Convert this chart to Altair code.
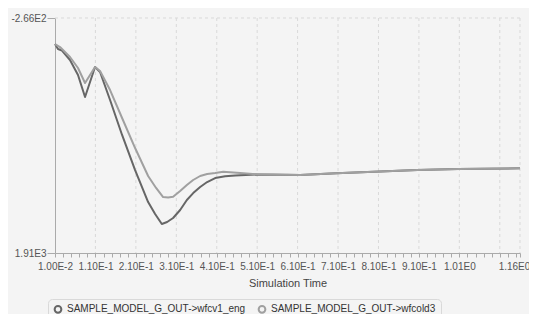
import altair as alt
import pandas as pd

# Series names
series_names = ["SAMPLE_MODEL_G_OUT->wfcv1_eng", "SAMPLE_MODEL_G_OUT->wfcold3"]

# wfcv1_eng (darker line)
t_a = [0.010, 0.0174, 0.0273, 0.0471, 0.0669, 0.0843, 0.109, 0.1214, 0.1462, 0.1759,
       0.2081, 0.2403, 0.2576, 0.2742, 0.2873, 0.3021, 0.3195, 0.3361, 0.3518, 0.369,
       0.3863, 0.4061, 0.4309, 0.4557, 0.5101, 0.6166, 0.7058, 0.9063, 1.0078, 1.16]
v_a = [-25, 21, 35, 123, 262, 466, 188, 234, 493, 817,
       1142, 1438, 1549, 1642, 1623, 1586, 1512, 1419, 1355, 1299,
       1253, 1216, 1200, 1192, 1183, 1188, 1172, 1142, 1132, 1126]

# wfcold3 (lighter line)
t_b = [0.010, 0.0224, 0.0471, 0.0669, 0.0843, 0.109, 0.1214, 0.1462, 0.1759, 0.2081,
       0.2403, 0.26, 0.2774, 0.2898, 0.3021, 0.3195, 0.3361, 0.3517, 0.369, 0.3863,
       0.4061, 0.426, 0.468, 0.5101, 0.6166, 0.7058, 0.9063, 1.0078, 1.16]
v_b = [-25, 3, 95, 197, 336, 188, 225, 401, 660, 938,
       1197, 1308, 1392, 1396, 1389, 1336, 1280, 1234, 1197, 1179,
       1169, 1157, 1169, 1181, 1188, 1172, 1142, 1132, 1126]

# Axis ticks / labels
x_tick_values = [round(0.01 + 0.02 * k, 2) for k in range(58)] + [1.16]
x_label_values = [0.01, 0.11, 0.21, 0.31, 0.41, 0.51, 0.61, 0.71, 0.81, 0.91, 1.01, 1.16]
x_label_texts = ["1.00E-2", "1.10E-1", "2.10E-1", "3.10E-1", "4.10E-1", "5.10E-1",
                 "6.10E-1", "7.10E-1", "8.10E-1", "9.10E-1", "1.01E0", "1.16E0"]
x_grid_values = [0.11, 0.21, 0.31, 0.41, 0.51, 0.61, 0.71, 0.81, 0.91, 1.01, 1.11, 1.16]
y_domain = [-266, 1910]
y_label_texts = ["-2.66E2", "1.91E3"]

df = pd.DataFrame(
    [{"t": t, "v": v, "series": series_names[0]} for t, v in zip(t_a, v_a)]
    + [{"t": t, "v": v, "series": series_names[1]} for t, v in zip(t_b, v_b)]
)
grid_df = pd.DataFrame({"t": x_grid_values})
top_df = pd.DataFrame({"v": [y_domain[0]]})

x_label_expr = ""
for val, txt in zip(x_label_values, x_label_texts):
    x_label_expr += f"abs(datum.value - {val}) < 0.001 ? '{txt}' : "
x_label_expr += "''"
y_label_expr = f"datum.value < 0 ? '{y_label_texts[0]}' : '{y_label_texts[1]}'"

x_scale = alt.Scale(domain=[0.01, 1.16], nice=False, zero=False)
y_scale = alt.Scale(domain=y_domain, reverse=True, nice=False, zero=False)
x_axis = alt.Axis(values=x_tick_values, labelExpr=x_label_expr, grid=False,
                  tickSize=4, title="Simulation Time", labelPadding=4,
                  labelOverlap=False, labelFlush=False, titlePadding=6,
                  labelOffset={"condition": {"test": "datum.value > 1.155", "value": -6}, "value": 0})
y_axis = alt.Axis(values=y_domain, labelExpr=y_label_expr, grid=False,
                  tickSize=8, title=None, labelPadding=1, labelFlush=False)

grid_v = alt.Chart(grid_df).mark_rule(strokeDash=[3, 3], color="#d9d9d9", strokeWidth=1).encode(
    x=alt.X("t:Q", scale=x_scale, axis=x_axis)
)
grid_h = alt.Chart(top_df).mark_rule(strokeDash=[3, 3], color="#d9d9d9", strokeWidth=1).encode(
    y=alt.Y("v:Q", scale=y_scale, axis=y_axis)
)

lines = alt.Chart(df).mark_line(strokeWidth=2, interpolate="linear", strokeJoin="round").encode(
    x=alt.X("t:Q", scale=x_scale, axis=x_axis),
    y=alt.Y("v:Q", scale=y_scale, axis=y_axis),
    color=alt.Color("series:N",
                    scale=alt.Scale(domain=series_names, range=["#666666", "#a0a0a0"]),
                    legend=alt.Legend(title=None, orient="none", legendX=-7, legendY=281,
                                      direction="horizontal", symbolType="circle",
                                      symbolSize=45, symbolStrokeWidth=2,
                                      fillColor="#f4f4f4", strokeColor="#d9d9d9",
                                      cornerRadius=4, padding=5, columnPadding=8,
                                      labelFontSize=10, labelColor="#333",
                                      labelLimit=400,
                                      labelFont="Liberation Sans", labelOffset=4)),
)

chart = alt.layer(grid_v, grid_h, lines).properties(
    width=465, height=235,
    autosize=alt.AutoSizeParams(type="none"),
    padding={"left": 47, "top": 10, "right": 9, "bottom": 61},
    background="#f4f4f4",
).configure_view(stroke=None).configure_axis(
    domainColor="#aaaaaa", tickColor="#aaaaaa", labelColor="#555555",
    labelFontSize=10, labelFont="Liberation Sans", titleFont="Liberation Sans",
    titleFontSize=11, titleFontWeight="normal", titleColor="#444444",
)

chart.save("out.html", embed_options={"renderer": "svg", "actions": False})
